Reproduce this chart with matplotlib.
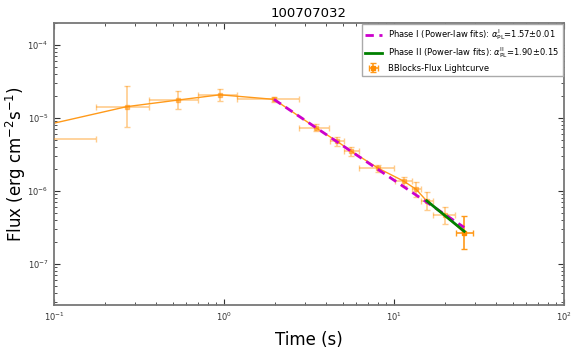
import numpy as np
import matplotlib
matplotlib.use("Agg")
import matplotlib.pyplot as plt

# Bayesian-block light curve
t = [0.038, 0.268, 0.535, 0.947, 1.97, 3.47, 4.63, 5.58, 8.09, 11.4, 13.5, 15.6, 19.9, 25.9]
t_lo = [0.0, 0.177, 0.362, 0.703, 1.188, 2.77, 4.19, 5.08, 6.2, 10.1, 12.8, 14.4, 16.9, 23.1]
t_hi = [0.177, 0.362, 0.703, 1.188, 2.77, 4.16, 5.08, 6.2, 10.04, 12.8, 14.4, 16.9, 23.0, 29.0]
flux = [5.08e-6, 1.43e-5, 1.76e-5, 2.08e-5, 1.80e-5, 7.35e-6, 4.78e-6, 3.52e-6, 2.04e-6,
        1.36e-6, 1.05e-6, 7.24e-7, 4.66e-7, 2.66e-7]
flux_lo = [4.0e-6, 7.57e-6, 1.31e-5, 1.72e-5, 1.65e-5, 6.6e-6, 4.12e-6, 3.0e-6, 1.81e-6,
           1.16e-6, 8.15e-7, 5.46e-7, 3.51e-7, 1.58e-7]
flux_hi = [6.2e-6, 2.74e-5, 2.36e-5, 2.52e-5, 1.95e-5, 8.17e-6, 5.42e-6, 4.03e-6, 2.26e-6,
           1.56e-6, 1.32e-6, 9.63e-7, 6.05e-7, 4.51e-7]

# power-law fits: F = norm * t^-alpha
fit1_norm, fit1_alpha, fit1_range = 5.21e-5, 1.57, (1.97, 25.9)
fit2_norm, fit2_alpha, fit2_range = 1.35e-4, 1.90, (15.6, 25.9)

t = np.array(t)
flux = np.array(flux)
xerr = np.array([t - np.array(t_lo), np.array(t_hi) - t])
xerr[0, 0] = 0.03
yerr = np.array([flux - np.array(flux_lo), np.array(flux_hi) - flux])

fig = plt.figure(figsize=(5.81, 3.49), dpi=100)
ax = fig.add_axes([0.0929, 0.1252, 0.8778, 0.8103])

ax.plot(t, flux, color="#ff9a1a", lw=1.0, zorder=2)
ax.errorbar(t[:-1], flux[:-1], xerr=xerr[:, :-1], yerr=yerr[:, :-1], fmt="s", ms=3,
            color="#ff8c00", ecolor="#ff9a1a", elinewidth=1.2, capsize=2.5,
            alpha=0.5, zorder=3)
eb = ax.errorbar(t[-1:], flux[-1:], xerr=xerr[:, -1:], yerr=yerr[:, -1:], fmt="s", ms=3,
                 color="#ff8c00", ecolor="#ff9a1a", elinewidth=1.2, capsize=2.5, zorder=3)

tt = np.logspace(np.log10(fit1_range[0]), np.log10(fit1_range[1]), 50)
l1, = ax.plot(tt, fit1_norm * tt ** -fit1_alpha, color="#cc00cc", lw=2,
              dashes=(3, 2), zorder=4)
tt = np.logspace(np.log10(fit2_range[0]), np.log10(fit2_range[1]), 50)
l2, = ax.plot(tt, fit2_norm * tt ** -fit2_alpha, "-", color="green", lw=2, zorder=5)

ax.set_xscale("log")
ax.set_yscale("log")
ax.set_xlim(0.1, 100)
ax.set_ylim(2.69e-8, 2.04e-4)

for s in ax.spines.values():
    s.set_color("#777777")
    s.set_linewidth(1.3)
ax.tick_params(which="both", direction="in", top=True, right=True, labelsize=6, colors="#333333")
ax.tick_params(which="major", length=4, pad=4)
ax.tick_params(which="minor", length=2)

ax.set_xlabel("Time (s)", fontsize=12)
ax.set_ylabel(r"Flux (erg cm$^{-2}$s$^{-1}$)", fontsize=12)
ax.yaxis.set_label_coords(-0.05, 0.5)
ax.xaxis.set_label_coords(0.5, -0.09)
ax.set_title("100707032", fontsize=9.5, pad=4)

leg = ax.legend([l1, l2, eb],
                [r"Phase I (Power-law fits): $\alpha_{\rm PL}^{\rm I}$=1.57$\pm$0.01",
                 r"Phase II (Power-law fits): $\alpha_{\rm PL}^{\rm II}$=1.90$\pm$0.15",
                 "BBlocks-Flux Lightcurve"],
                loc="upper right", fontsize=6, fancybox=False, borderaxespad=0.15,
                handlelength=2.0, framealpha=1, labelspacing=0.4)
leg.get_frame().set_edgecolor("#aaaaaa")

plt.savefig("out.png", dpi=100)
